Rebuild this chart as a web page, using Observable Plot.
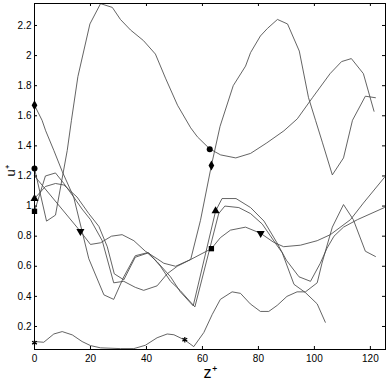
<!DOCTYPE html>
<html><head><meta charset="utf-8">
<script src="https://cdn.jsdelivr.net/npm/d3@7"></script>
<script src="https://cdn.jsdelivr.net/npm/@observablehq/plot@0.6"></script>
<style>body{margin:0;background:#fff}#chart{width:388px;height:388px}</style>
</head><body><div id="chart"></div>
<script>
// tick values
const xTicks = [0, 20, 40, 60, 80, 100, 120];
const yTicks = [0.2, 0.4, 0.6, 0.8, 1, 1.2, 1.4, 1.6, 1.8, 2, 2.2];

// series (z+, u+)
const circleZ = [0,4.3,7.5,11.7,13.2,15.5,19.8,23.6,27.8,30.7,34.3,38.9,43.2,46.8,51.1,55.8,58.2,62.6,66.5,71.9,77.2,83,89.1,93.9,99.3,105.6,109.7,113.2,117.5,121.3];
const circleU = [1.25,0.90,0.94,1.37,1.57,1.86,2.21,2.345,2.32,2.24,2.17,2.10,2.01,1.85,1.67,1.52,1.46,1.38,1.34,1.32,1.35,1.42,1.50,1.58,1.72,1.88,1.96,1.98,1.88,1.63];

const diamondZ = [0,2.7,4,6.9,9.9,14,19.4,24.8,28.3,31.9,36,40.3,43.8,48.6,52.1,56.7,64.7,67,72,77.2,82,86.5,90,94.5,98.6,102.1,104.5,107,110.4,115.4,125];
const diamondU = [1.67,1.57,1.50,1.37,1.23,1.06,0.65,0.41,0.38,0.53,0.67,0.69,0.63,0.53,0.43,0.337,0.967,1.05,1.05,0.99,0.90,0.76,0.64,0.53,0.50,0.62,0.72,0.80,0.86,0.91,0.99];

const triZ = [0,3.9,7.5,10.5,15.2,19.4,23,26,28.5,31.9,36,40.8,45,48.6,52,57.3,65.8,68,73,77.2,81.4,86.2,88.5,92.7,96.8,101,103.9];
const triU = [1.05,1.13,1.15,1.14,1.06,0.95,0.865,0.73,0.55,0.51,0.66,0.69,0.60,0.50,0.44,0.33,0.95,1.0,0.99,0.95,0.88,0.75,0.69,0.48,0.425,0.35,0.228];

const squareZ = [0,3.9,7.5,10.5,14,17,20,24.2,28.3,31.9,36,39,43.8,47.4,51,55.8,59.3,63.2,66.3,71,75.4,77.2,80.7,83.2,86.8,90.4,94.6,97.9,100.4,102.9,106.4,110.4,113.6,118.2,121.8];
const squareU = [0.965,1.2,1.22,1.15,1.06,0.98,0.91,0.77,0.49,0.50,0.46,0.44,0.47,0.55,0.60,0.645,0.905,1.27,1.53,1.80,1.93,2.02,2.13,2.18,2.24,2.21,2.03,1.72,1.57,1.42,1.207,1.32,1.57,1.73,1.72];

const downZ = [0,16.4,20,23.6,27.5,31.3,35.5,39.6,43.8,46.2,50.4,55.8,63.2,66.4,70,75.4,80.8,85.4,89,95,101,105.7,112.9,117.5,125];
const downU = [1.2,0.832,0.745,0.756,0.80,0.81,0.77,0.70,0.65,0.62,0.60,0.645,0.717,0.79,0.84,0.86,0.819,0.76,0.73,0.74,0.77,0.81,0.91,1.02,1.19];

const starZ = [0,3.3,6.9,9.9,13.5,17,20,23.6,30.7,35.5,39.6,43.8,47.4,49.8,53.7,56.9,60.5,63.5,66.4,70.6,73.6,77.1,80.7,83.7,86.7,90.2,93.8,96.8,101,102.7,106.4,110.4,113.9,118.2,121.8];
const starU = [0.10,0.095,0.15,0.166,0.144,0.10,0.073,0.058,0.053,0.053,0.075,0.125,0.15,0.145,0.11,0.066,0.16,0.28,0.38,0.43,0.42,0.35,0.30,0.30,0.34,0.40,0.43,0.43,0.49,0.62,0.86,1.01,0.91,0.70,0.665];

// markers
const markZ = [0,62.6, 0,63.2, 0,64.7, 0,63.2, 16.4,80.8, 0,53.7];
const markU = [1.25,1.377, 1.67,1.27, 1.049,0.967, 0.965,0.717, 0.832,0.819, 0.092,0.112];
const markS = ["circle","circle","diamond","diamond","triangle","triangle","square","square","down","down","star","star"];

const series = [[circleZ,circleU],[diamondZ,diamondU],[triZ,triU],[squareZ,squareU],[downZ,downU],[starZ,starU]];
const rows = series.flatMap(([zs,us],i)=>zs.map((z,j)=>({id:i,z,u:us[j]})));
const marks = markZ.map((z,i)=>({z,u:markU[i],s:markS[i]}));

const sqrt3 = Math.sqrt(3);
const triangleDown = {draw(ctx,size){const y=-Math.sqrt(size/(sqrt3*3));ctx.moveTo(0,-y*2);ctx.lineTo(-sqrt3*y,y);ctx.lineTo(sqrt3*y,y);ctx.closePath();}};
const symFor = s => s==="down" ? triangleDown : s;

const innerH = 388-3-39, innerW = 388-34-3;
const fmt = d => String(+d.toFixed(1));

const chart = Plot.plot({
  width: 388, height: 388,
  marginLeft: 34, marginRight: 3, marginTop: 3, marginBottom: 39,
  style: {fontFamily: "'Liberation Sans', Arial, sans-serif", fontSize: "10px", background: "#fff", color: "#000"},
  x: {domain: [0, 125.4]},
  y: {domain: [0.047, 2.346]},
  marks: [
    Plot.line(rows, {x: "z", y: "u", z: "id", stroke: "#484848", strokeWidth: 0.85}),
    Plot.frame({stroke: "#000", strokeWidth: 1}),
    Plot.ruleX(xTicks, {x: d=>d, insetTop: innerH-3, stroke: "#000"}),
    Plot.ruleX(xTicks, {x: d=>d, insetBottom: innerH-3, stroke: "#000"}),
    Plot.ruleY(yTicks, {y: d=>d, insetRight: innerW-3, stroke: "#000"}),
    Plot.ruleY(yTicks, {y: d=>d, insetLeft: innerW-3, stroke: "#000"}),
    Plot.axisX(xTicks, {tickSize: 0, tickPadding: 5, label: null}),
    Plot.axisY(yTicks, {tickSize: 0, tickPadding: 3, tickFormat: fmt, label: null}),
    Plot.dot(marks.filter(d=>d.s!=="star"), {x: "z", y: "u", symbol: d=>symFor(d.s), r: 3, fill: "#000", stroke: "none"}),
    Plot.dot(marks.filter(d=>d.s==="star"), {x: "z", y: "u", symbol: "asterisk", r: 2.6, stroke: "#000", strokeWidth: 1.2}),
    Plot.text(["z⁺"], {text: d=>d, frameAnchor: "bottom", dy: 28, fontSize: 16}),
    Plot.text(["u⁺"], {text: d=>d, frameAnchor: "left", dx: -24, rotate: -90, fontSize: 13})
  ]
});
document.getElementById("chart").append(chart);
</script>
</body></html>
